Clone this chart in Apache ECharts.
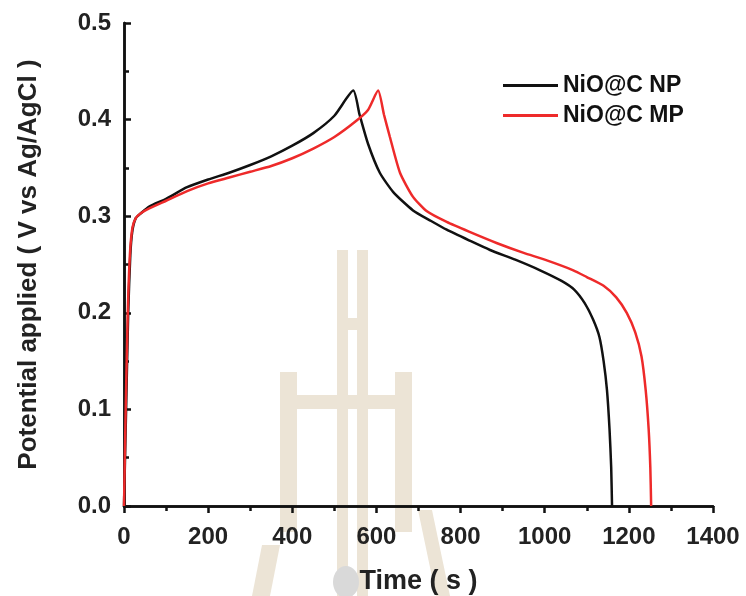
<!DOCTYPE html>
<html>
<head>
<meta charset="utf-8">
<script src="https://cdn.jsdelivr.net/npm/echarts@6/dist/echarts.min.js"></script>
<style>
  html, body { margin: 0; padding: 0; background: #fff; }
  #chart { width: 746px; height: 596px; }
</style>
</head>
<body>
<div id="chart"></div>
<script>
// NiO@C NP (black)
const tNP = [0, 5, 10, 15, 20, 28, 40, 60, 100, 150, 200, 250, 300, 350, 400, 450, 500, 545,
  560, 580, 608, 640, 687, 730, 767, 820, 870, 930, 989, 1040, 1070, 1095, 1115, 1130, 1140, 1148, 1154, 1158, 1160]
const vNP = [0, 0.1, 0.2, 0.26, 0.285, 0.298, 0.303, 0.31, 0.318, 0.33, 0.338, 0.345, 0.353, 0.362, 0.373, 0.386, 0.404, 0.43,
  0.405, 0.375, 0.345, 0.325, 0.306, 0.295, 0.286, 0.275, 0.265, 0.255, 0.244, 0.233, 0.224, 0.21, 0.193, 0.175, 0.15, 0.12, 0.08, 0.04, 0]

// NiO@C MP (red)
const tMP = [0, 4, 9, 14, 20, 28, 40, 60, 100, 150, 200, 250, 300, 350, 400, 450, 500, 550, 580, 604,
  618, 632, 656, 687, 720, 767, 820, 887, 950, 1000, 1068, 1100, 1140, 1170, 1195, 1215, 1230, 1240, 1247, 1251, 1253]
const vMP = [0, 0.1, 0.2, 0.26, 0.288, 0.298, 0.303, 0.308, 0.316, 0.326, 0.334, 0.34, 0.346, 0.352, 0.36, 0.37, 0.382, 0.398, 0.41, 0.43,
  0.405, 0.382, 0.345, 0.32, 0.305, 0.294, 0.284, 0.272, 0.262, 0.255, 0.244, 0.237, 0.228, 0.216, 0.2, 0.18, 0.155, 0.12, 0.08, 0.04, 0]

const seriesNames = ['NiO@C NP', 'NiO@C MP']
const xTicks = [0, 200, 400, 600, 800, 1000, 1200, 1400]
const yTicks = [0.0, 0.1, 0.2, 0.3, 0.4, 0.5]

const chart = echarts.init(document.getElementById('chart'))
const font = 'Liberation Sans, Arial, sans-serif'
const beige = '#ece4d6'

// 水印 (rough)
const mark = [
  { type: 'rect', shape: { x: 337, y: 250, width: 11, height: 346 } },
  { type: 'rect', shape: { x: 357, y: 250, width: 11, height: 346 } },
  { type: 'rect', shape: { x: 337, y: 318, width: 31, height: 12 } },
  { type: 'rect', shape: { x: 280, y: 372, width: 17, height: 160 } },
  { type: 'rect', shape: { x: 395, y: 372, width: 17, height: 160 } },
  { type: 'rect', shape: { x: 280, y: 395, width: 132, height: 14 } },
  { type: 'polygon', shape: { points: [[262, 545], [280, 545], [270, 596], [252, 596]] } },
  { type: 'polygon', shape: { points: [[418, 510], [432, 510], [450, 596], [436, 596]] } }
].map(g => Object.assign(g, { z: -10, style: { fill: beige } }))
mark.push({ type: 'ellipse', z: -9, shape: { cx: 346, cy: 582, rx: 13, ry: 16 }, style: { fill: '#d9d9d9' } })

const option = {
  animation: false,
  graphic: mark,
  grid: { left: 124, right: 33, top: 23, bottom: 90, outerBoundsMode: 'none' },
  legend: {
    data: seriesNames,
    orient: 'vertical',
    left: 498,
    top: 69,
    itemWidth: 55,
    itemHeight: 3,
    itemGap: 7,
    icon: 'rect',
    textStyle: { fontFamily: font, fontWeight: 'bold', fontSize: 23, color: '#111' }
  },
  xAxis: [{
    type: 'value',
    min: 0, max: 1400, interval: 200,
    name: 'Time ( s )',
    nameLocation: 'middle',
    nameGap: 62,
    nameTextStyle: { fontFamily: font, fontWeight: 'bold', fontSize: 27, color: '#222' },
    axisLine: { lineStyle: { color: '#111', width: 2.5 } },
    axisTick: { show: true, length: 7, lineStyle: { color: '#111', width: 2.5 } },
    minorTick: { show: true, splitNumber: 2, length: 5, lineStyle: { color: '#111', width: 2.5 } },
    axisLabel: {
      fontFamily: font, fontWeight: 'bold', fontSize: 24, color: '#222', margin: 19,
      formatter: v => xTicks.includes(v) ? String(v) : ''
    },
    splitLine: { show: false }
  }, {
    type: 'value', position: 'top', min: 0, max: 1400,
    axisLine: { show: true, lineStyle: { color: '#111', width: 2.5 } },
    axisTick: { show: false }, axisLabel: { show: false }, splitLine: { show: false }
  }],
  yAxis: [{
    type: 'value',
    min: 0, max: 0.5, interval: 0.1,
    name: 'Potential applied ( V vs Ag/AgCl )',
    nameLocation: 'middle',
    nameGap: 82,
    nameTextStyle: { fontFamily: font, fontWeight: 'bold', fontSize: 26, color: '#222' },
    axisLine: { show: true, lineStyle: { color: '#111', width: 2.5 } },
    axisTick: { show: true, inside: true, length: 7, lineStyle: { color: '#111', width: 2.5 } },
    minorTick: { show: true, splitNumber: 2, length: 5, lineStyle: { color: '#111', width: 2.5 } },
    axisLabel: {
      fontFamily: font, fontWeight: 'bold', fontSize: 24, color: '#222', margin: 13,
      formatter: v => {
        const t = yTicks.find(y => Math.abs(y - v) < 1e-9)
        return t === undefined ? '' : t.toFixed(1)
      }
    },
    splitLine: { show: false }
  }, {
    type: 'value', position: 'right', min: 0, max: 0.5,
    axisLine: { show: true, lineStyle: { color: '#111', width: 2.5 } },
    axisTick: { show: false }, axisLabel: { show: false }, splitLine: { show: false }
  }],
  series: [{
    name: seriesNames[0],
    type: 'line',
    data: tNP.map((t, i) => [t, vNP[i]]),
    smooth: 0.2,
    showSymbol: false,
    lineStyle: { color: '#111', width: 2.5 },
    itemStyle: { color: '#111' },
    z: 3
  }, {
    name: seriesNames[1],
    type: 'line',
    data: tMP.map((t, i) => [t, vMP[i]]),
    smooth: 0.2,
    showSymbol: false,
    lineStyle: { color: '#ee2a2a', width: 2.5 },
    itemStyle: { color: '#ee2a2a' },
    z: 4
  }]
}

chart.setOption(option)
</script>
</body>
</html>
